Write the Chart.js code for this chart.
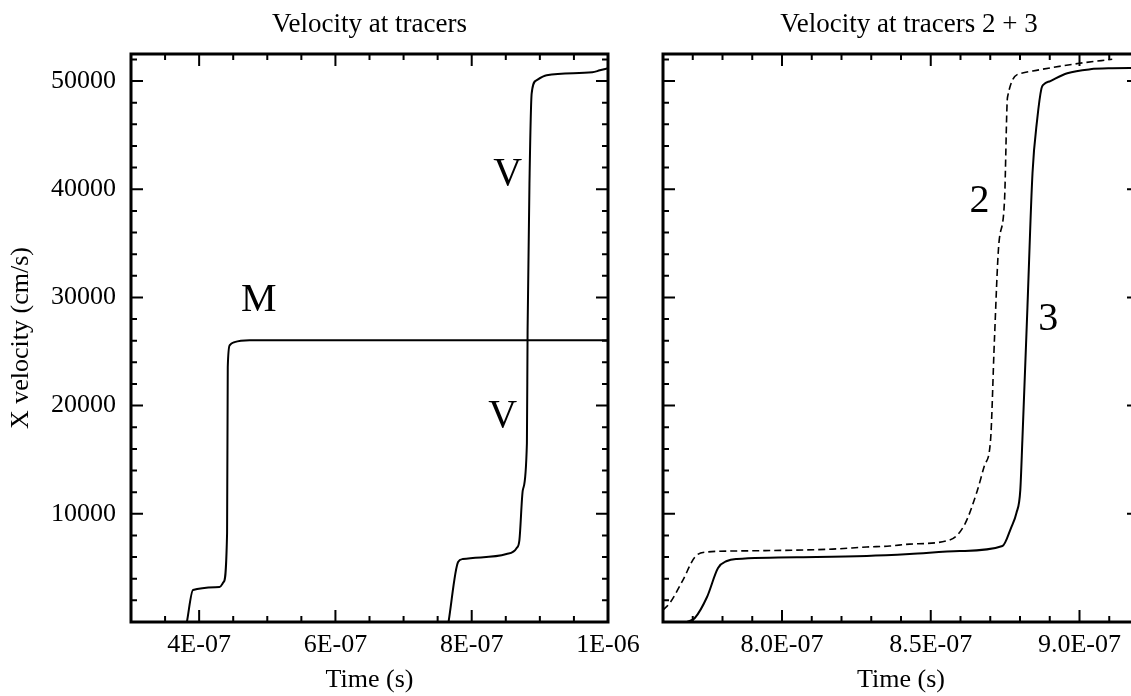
<!DOCTYPE html>
<html>
<head>
<meta charset="utf-8">
<script src="https://cdn.jsdelivr.net/npm/chart.js@4.4.0/dist/chart.umd.min.js"></script>
<style>
  html, body { margin: 0; padding: 0; background: #fff; overflow: hidden; }
  #wrap { position: relative; width: 1131px; height: 696px; overflow: hidden; }
  #left { position: absolute; left: 0; top: 0; }
  #right { position: absolute; left: 560px; top: 0; }
</style>
</head>
<body>
<div id="wrap">
  <canvas id="left" width="660" height="696"></canvas>
  <canvas id="right" width="620" height="696"></canvas>
</div>
<script>
// left panel, tracer M
const mTime = [3.82e-7, 3.91e-7, 4.30e-7, 4.36e-7, 4.41e-7, 4.42e-7, 4.45e-7, 4.52e-7, 4.74e-7, 1.0e-6];
const mVel  = [0, 2960, 3230, 3700, 8220, 23560, 25590, 25870, 26050, 26050];

// left panel, tracer V
const vTime = [7.66e-7, 7.80e-7, 7.87e-7, 8.51e-7, 8.66e-7, 8.70e-7, 8.75e-7, 8.81e-7, 8.82e-7, 8.85e-7,
               8.88e-7, 8.95e-7, 9.10e-7, 9.77e-7, 9.88e-7, 1.0e-6];
const vVel  = [0, 5540, 5820, 6280, 6840, 7575, 12190, 16540, 26975, 41480,
               48870, 50070, 50530, 50810, 50990, 51180];

// right panel, tracer 2 (dashed)
const t2Time = [7.600e-7, 7.623e-7, 7.667e-7, 7.707e-7, 7.748e-7, 7.835e-7, 8.170e-7, 8.285e-7, 8.362e-7,
                8.429e-7, 8.563e-7, 8.613e-7, 8.657e-7, 8.681e-7, 8.701e-7, 8.714e-7, 8.728e-7, 8.748e-7,
                8.758e-7, 8.805e-7, 8.855e-7, 9.000e-7, 9.110e-7];
const t2Vel  = [1110, 1755, 3880, 6000, 6470, 6560, 6740, 6930, 7020,
                7200, 7575, 8960, 12190, 14500, 16810, 26050, 34640, 38980,
                48500, 50720, 50990, 51640, 52010];

// right panel, tracer 3 (solid)
const t3Time = [7.681e-7, 7.707e-7, 7.748e-7, 7.785e-7, 7.815e-7, 7.848e-7, 8.117e-7, 8.285e-7, 8.429e-7,
                8.597e-7, 8.741e-7, 8.771e-7, 8.788e-7, 8.801e-7, 8.808e-7, 8.825e-7, 8.842e-7, 8.858e-7,
                8.872e-7, 8.880e-7, 8.902e-7, 8.959e-7, 9.036e-7, 9.110e-7, 9.197e-7];
const t3Vel  = [0, 370, 2310, 4990, 5640, 5820, 6000, 6100, 6280,
                6560, 7020, 8780, 10070, 12190, 16810, 29100, 41480, 46500,
                49300, 49700, 50000, 50720, 51090, 51180, 51200];

// axes
const leftXTicks   = [4e-7, 6e-7, 8e-7, 1e-6];
const leftXLabels  = ['4E-07', '6E-07', '8E-07', '1E-06'];
const rightXTicks  = [8e-7, 8.5e-7, 9e-7];
const rightXLabels = ['8.0E-07', '8.5E-07', '9.0E-07'];
const yTicks  = [10000, 20000, 30000, 40000, 50000];
const yLabels = ['10000', '20000', '30000', '40000', '50000'];

const SERIF = '"Liberation Serif", "Times New Roman", serif';
Chart.defaults.color = '#000';
Chart.defaults.font.family = SERIF;

const toPoints = (xs, ys) => xs.map((x, i) => ({ x: x, y: ys[i] }));

// box around the plot area with inward major/minor ticks on all four sides
const framePlugin = {
  id: 'frame',
  afterDatasetsDraw(chart, args, opts) {
    const { ctx, chartArea: a, scales: { x, y } } = chart;
    ctx.save();
    ctx.strokeStyle = '#000';
    ctx.lineWidth = 2;
    const isMajor = (v, step) => Math.abs(v / step - Math.round(v / step)) < 1e-6;
    const n0 = Math.ceil(x.min / opts.xMinor - 1e-6), n1 = Math.floor(x.max / opts.xMinor + 1e-6);
    for (let n = n0; n <= n1; n++) {
      const v = n * opts.xMinor;
      const p = x.getPixelForValue(v);
      const len = isMajor(v, opts.xMajor) ? 12 : 6;
      ctx.beginPath();
      ctx.moveTo(p, a.bottom); ctx.lineTo(p, a.bottom - len);
      ctx.moveTo(p, a.top); ctx.lineTo(p, a.top + len);
      ctx.stroke();
    }
    const m0 = Math.ceil(y.min / opts.yMinor), m1 = Math.floor(y.max / opts.yMinor);
    for (let n = m0; n <= m1; n++) {
      const v = n * opts.yMinor;
      const p = y.getPixelForValue(v);
      const len = isMajor(v, opts.yMajor) ? 12 : 6;
      ctx.beginPath();
      ctx.moveTo(a.left, p); ctx.lineTo(a.left + len, p);
      ctx.moveTo(a.right, p); ctx.lineTo(a.right - len, p);
      ctx.stroke();
    }
    ctx.lineWidth = 3;
    ctx.strokeRect(a.left, a.top, a.right - a.left, a.bottom - a.top);
    ctx.restore();
  }
};

// panel title and the curve labels
const notesPlugin = {
  id: 'notes',
  afterDraw(chart, args, opts) {
    const { ctx, chartArea: a, scales: { x, y } } = chart;
    ctx.save();
    ctx.fillStyle = '#000';
    ctx.textAlign = 'center';
    ctx.textBaseline = 'middle';
    ctx.font = '27px ' + SERIF;
    ctx.fillText(opts.title, (a.left + a.right) / 2 + opts.titleShift, 25);
    ctx.textBaseline = 'alphabetic';
    ctx.font = '40px ' + SERIF;
    opts.notes.forEach(n => ctx.fillText(n.text, x.getPixelForValue(n.t), y.getPixelForValue(n.v)));
    ctx.restore();
  }
};

function makePanel(id, cfg) {
  return new Chart(document.getElementById(id), {
    type: 'line',
    data: { datasets: cfg.datasets },
    options: {
      responsive: false,
      animation: false,
      layout: { padding: { top: 54, right: cfg.padRight, left: 0, bottom: 0 } },
      elements: { point: { radius: 0 }, line: { cubicInterpolationMode: 'monotone' } },
      plugins: {
        legend: { display: false },
        tooltip: { enabled: false },
        frame: { xMinor: cfg.xMinor, xMajor: cfg.xMajor, yMinor: 2000, yMajor: 10000 },
        notes: { title: cfg.title, titleShift: cfg.titleShift, notes: cfg.notes }
      },
      scales: {
        x: {
          type: 'linear',
          min: cfg.xMin,
          max: cfg.xMax,
          grid: { display: false, drawTicks: false },
          border: { display: false },
          afterBuildTicks: s => { s.ticks = cfg.xTicks.map(v => ({ value: v })); },
          afterFit: s => { s.height = 74; },
          ticks: {
            autoSkip: false, maxRotation: 0, padding: 8,
            font: { size: 26 },
            callback: (v, i) => cfg.xLabels[i]
          },
          title: { display: true, text: 'Time (s)', font: { size: 26 }, padding: { top: 0, bottom: 0 } }
        },
        y: {
          type: 'linear',
          min: 0,
          max: 52500,
          grid: { display: false, drawTicks: false },
          border: { display: false },
          afterBuildTicks: s => { s.ticks = yTicks.map(v => ({ value: v })); },
          afterFit: s => { s.width = cfg.axisWidth; },
          ticks: {
            display: cfg.showY, padding: 15,
            font: { size: 26 },
            callback: (v, i) => yLabels[i]
          },
          title: { display: cfg.showY, text: 'X velocity (cm/s)', font: { size: 26 }, padding: { top: 6, bottom: 0 } }
        }
      }
    },
    plugins: [framePlugin, notesPlugin]
  });
}

makePanel('left', {
  title: 'Velocity at tracers',
  titleShift: 0,
  axisWidth: 131,
  padRight: 52,
  showY: true,
  xMin: 3e-7, xMax: 1e-6,
  xMinor: 0.5e-7, xMajor: 2e-7,
  xTicks: leftXTicks, xLabels: leftXLabels,
  datasets: [
    { data: toPoints(mTime, mVel), borderColor: '#000', borderWidth: 2 },
    { data: toPoints(vTime, vVel), borderColor: '#000', borderWidth: 2 }
  ],
  notes: [
    { text: 'M', t: 4.877e-7, v: 28730 },
    { text: 'V', t: 8.528e-7, v: 40370 },
    { text: 'V', t: 8.455e-7, v: 18010 }
  ]
});

makePanel('right', {
  title: 'Velocity at tracers 2 + 3',
  titleShift: 8,
  axisWidth: 103,
  padRight: 41,
  showY: false,
  xMin: 7.6e-7, xMax: 9.2e-7,
  xMinor: 0.1e-7, xMajor: 0.5e-7,
  xTicks: rightXTicks, xLabels: rightXLabels,
  datasets: [
    { data: toPoints(t2Time, t2Vel), borderColor: '#000', borderWidth: 1.6, borderDash: [7, 4] },
    { data: toPoints(t3Time, t3Vel), borderColor: '#000', borderWidth: 2 }
  ],
  notes: [
    { text: '2', t: 8.664e-7, v: 37880 },
    { text: '3', t: 8.895e-7, v: 26970 }
  ]
});
</script>
</body>
</html>
